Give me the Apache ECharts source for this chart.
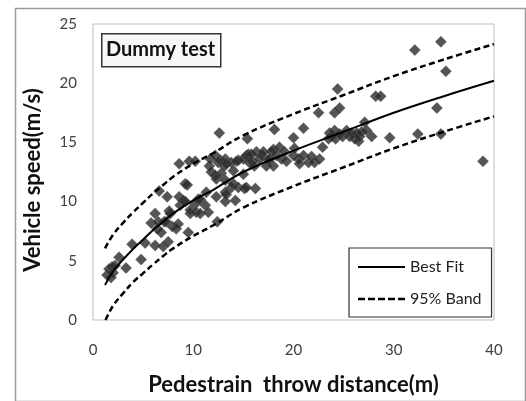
<!DOCTYPE html>
<html>
<head>
<meta charset="utf-8">
<script src="https://cdn.jsdelivr.net/npm/echarts@6/dist/echarts.min.js"></script>
<style>
html,body{margin:0;padding:0;background:#fff;}
#chart{width:526px;height:401px;}
</style>
</head>
<body>
<div id="chart"></div>
<script>
// Observed data: pedestrian throw distance (m) vs vehicle speed (m/s)
var distance = [1.4,1.6,1.8,1.9,2.0,2.2,2.6,3.3,3.9,4.8,5.2,5.8,6.2,6.2,6.4,6.6,6.5,6.8,7.0,7.1,7.3,7.4,7.5,7.6,7.7,7.9,8.3,8.5,8.6,8.6,8.7,9.0,9.2,9.2,9.4,9.5,9.6,9.7,9.7,10.2,10.2,10.3,10.5,10.7,10.7,11.2,11.3,11.5,11.6,11.7,11.8,12.2,12.2,12.3,12.3,12.4,12.5,12.6,12.7,12.8,13.1,13.2,13.2,13.2,13.2,13.3,13.3,13.8,13.8,14.0,14.0,14.2,14.3,14.5,14.5,15.0,15.0,15.1,15.3,15.3,15.4,15.5,15.6,15.8,15.9,16.1,16.2,16.3,16.6,16.9,17.0,17.3,17.5,17.6,17.8,18.0,18.0,18.1,18.3,18.6,18.8,19.1,19.3,20.0,20.0,20.1,20.5,20.6,21.0,21.0,21.5,21.8,22.1,22.5,22.6,22.9,23.5,23.6,23.8,24.1,24.1,24.2,24.4,24.6,24.6,24.9,25.3,25.6,25.8,26.1,26.3,26.5,26.6,26.8,27.1,27.3,27.8,28.2,28.7,29.6,32.1,32.4,34.3,34.7,34.7,35.2,38.9];
var speed = [3.8,4.3,3.6,4.5,4.0,4.6,5.3,4.4,6.4,5.1,6.5,8.2,6.3,9.0,7.7,10.9,8.3,7.4,6.2,8.3,8.3,10.4,6.6,9.2,9.0,7.9,7.7,8.1,13.2,10.4,9.7,10.1,10.0,11.5,11.4,7.4,13.4,9.0,9.3,13.4,9.8,9.1,10.2,9.0,10.2,9.7,10.8,9.1,13.0,13.6,12.5,12.2,13.9,10.4,11.9,8.3,13.3,15.8,13.5,12.4,13.0,11.8,10.8,10.0,13.6,13.2,10.6,13.3,11.2,12.6,11.5,10.1,13.4,13.5,11.2,12.3,13.6,11.1,13.9,11.2,15.3,14.0,13.3,14.0,13.4,13.0,11.1,14.2,13.6,13.9,14.2,13.0,13.5,13.6,14.2,13.0,14.4,16.1,13.9,14.6,13.6,14.2,13.4,13.9,15.4,14.5,13.6,13.2,13.9,16.2,13.3,13.8,13.3,17.5,13.6,14.6,15.3,15.8,15.5,16.0,17.5,15.3,19.5,15.7,17.9,15.5,16.0,15.5,15.8,15.3,15.8,15.1,15.5,15.9,16.7,16.0,15.5,18.9,18.9,15.4,22.8,15.7,17.9,23.5,15.7,21.0,13.4];

// Curves
var fitX   = [1.2, 2, 3, 4, 5, 6, 7, 8, 10, 12, 15, 20, 25, 30, 35, 40];
var fitY   = [2.95, 4.1, 5.1, 6.0, 6.8, 7.6, 8.3, 9.0, 10.1, 11.0, 12.5, 14.3, 15.9, 17.5, 18.9, 20.2];
var upperY = [6.05, 7.2, 8.2, 9.1, 9.9, 10.7, 11.4, 12.1, 13.2, 14.1, 15.6, 17.4, 19.0, 20.6, 22.0, 23.3];
var lowerX = [1.25, 2, 3, 4, 5, 6, 7, 8, 10, 12, 15, 20, 25, 30, 35, 40];
var lowerY = [0, 1.2, 2.25, 3.2, 3.95, 4.7, 5.4, 6.05, 7.1, 8.0, 9.5, 11.3, 12.9, 14.5, 15.9, 17.2];

var xTicks = [0, 10, 20, 30, 40];
var yTicks = [0, 5, 10, 15, 20, 25];

function zip(a, b) { return a.map(function (v, i) { return [v, b[i]]; }); }

var FONT = 'Lato';
var chart = echarts.init(document.getElementById('chart'), null, {renderer: 'canvas'});
chart.setOption({
  backgroundColor: '#fff',
  animation: false,
  grid: {left: 93, top: 24, right: 32, bottom: 79, show: true, borderColor: '#bdbdbd', borderWidth: 1, backgroundColor: '#fff'},
  xAxis: {
    type: 'value', min: xTicks[0], max: xTicks[xTicks.length - 1], interval: 10,
    axisLine: {show: false}, axisTick: {show: false}, splitLine: {show: false},
    axisLabel: {color: '#404040', fontSize: 15, fontFamily: FONT, margin: 23},
    name: 'Pedestrain  throw distance(m)', nameLocation: 'middle', nameGap: 54,
    nameTextStyle: {color: '#111', fontSize: 22, fontWeight: 'bold', fontFamily: FONT}
  },
  yAxis: {
    type: 'value', min: yTicks[0], max: yTicks[yTicks.length - 1], interval: 5,
    axisLine: {show: false}, axisTick: {show: false}, splitLine: {show: false},
    axisLabel: {color: '#404040', fontSize: 15, fontFamily: FONT, margin: 16}
  },
  legend: {
    data: [
      {name: 'Best Fit', icon: 'path://M0,0h47v2.2h-47z'},
      {name: '95% Band', icon: 'path://M0,0h7v2.5h-7zM10,0h7v2.5h-7zM20,0h7v2.5h-7zM30,0h7v2.5h-7zM40,0h7v2.5h-7z'}
    ],
    orient: 'vertical', left: 349, top: 248,
    itemWidth: 47, itemHeight: 14, itemGap: 16,
    padding: [11, 10, 10, 9],
    backgroundColor: '#fff', borderColor: '#333', borderWidth: 1.2,
    textStyle: {color: '#222', fontSize: 16, fontFamily: FONT}
  },
  series: [
    {
      type: 'scatter', name: 'data', data: zip(distance, speed),
      symbol: 'diamond', symbolSize: 11.5,
      itemStyle: {color: '#2b2b2b', borderColor: 'rgba(150,150,150,0.5)', borderWidth: 0.6},
      z: 2
    },
    {
      type: 'line', name: 'Best Fit', data: zip(fitX, fitY), smooth: 0.4,
      symbol: 'none', lineStyle: {color: '#000', width: 2}, itemStyle: {color: '#000'}, z: 3
    },
    {
      type: 'line', name: '95% Band', data: zip(fitX, upperY), smooth: 0.4,
      symbol: 'none', lineStyle: {color: '#000', width: 2.5, type: [6, 3.5]}, itemStyle: {color: '#000'}, z: 3
    },
    {
      type: 'line', name: '95% Band', data: zip(lowerX, lowerY), smooth: 0.4,
      symbol: 'none', lineStyle: {color: '#000', width: 2.5, type: [6, 3.5]}, itemStyle: {color: '#000'}, z: 3
    }
  ],
  graphic: [
    {type: 'rect', left: 13, top: 6, shape: {width: 510, height: 393}, style: {fill: 'none', stroke: '#9a9a9a', lineWidth: 1.5}, silent: true, z: -10},
    {type: 'rect', left: 101, top: 33, shape: {width: 119, height: 33}, style: {fill: '#f7f7f7', stroke: '#333', lineWidth: 1.5}, z: 10},
    {type: 'text', x: 160.5, y: 49.5, style: {text: 'Dummy test', fill: '#111', font: 'bold 20px Lato', align: 'center', verticalAlign: 'middle'}, z: 11},
    {type: 'text', x: 33, y: 180, rotation: Math.PI / 2, style: {text: 'Vehicle speed(m/s)', fill: '#111', font: 'bold 22px Lato', align: 'center', verticalAlign: 'middle'}, z: 11}
  ]
});
</script>
</body>
</html>
